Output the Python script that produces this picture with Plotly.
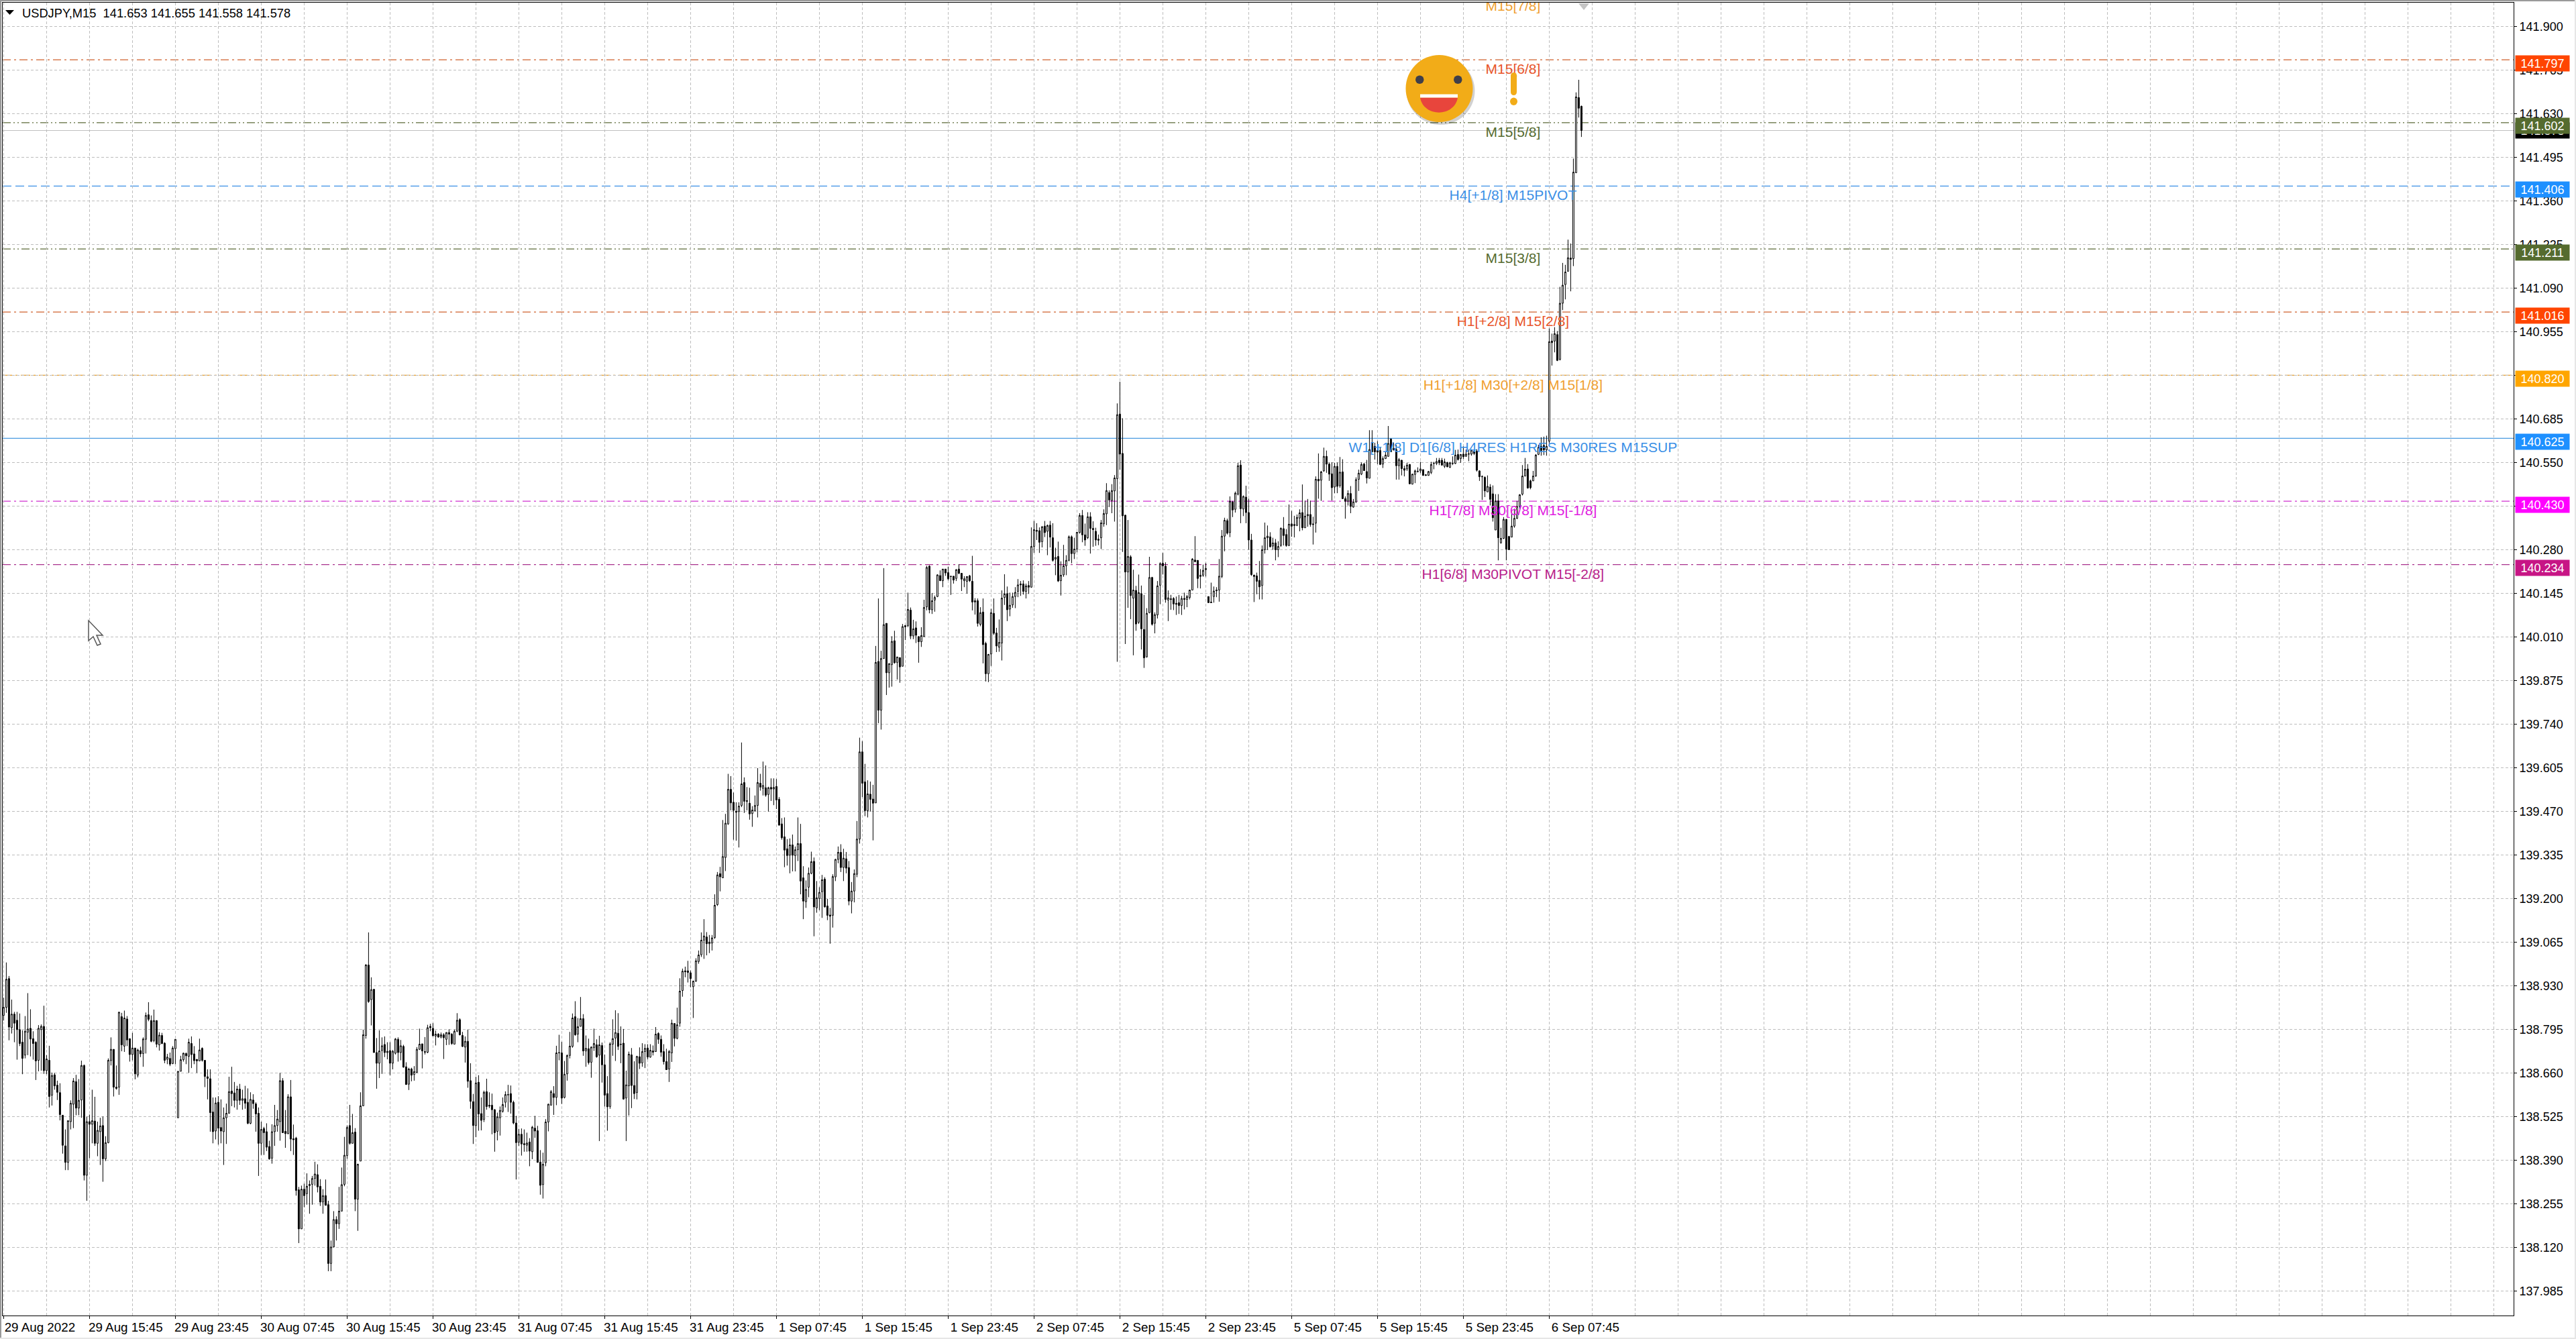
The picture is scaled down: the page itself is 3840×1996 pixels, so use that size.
import plotly.graph_objects as go

PRICE_BASE = 138.0  # the arrays below are prices, in thousandths above this base

opens_milli = [
838,863,952,800,842,823,794,755,715,786,798,766,755,699,794,804,667,699,591,654,
622,599,529,434,383,509,563,633,551,576,683,343,509,501,511,442,478,497,394,444,
698,733,616,616,834,743,827,766,717,737,653,729,720,764,840,822,760,822,747,776,
752,702,705,689,735,521,665,701,720,711,751,719,702,697,736,699,648,642,539,480,
569,491,478,521,535,604,598,575,610,575,580,569,504,576,564,535,442,488,478,432,
396,478,497,509,636,479,472,586,456,458,298,177,300,286,311,315,333,345,309,260,
280,252,70,121,206,193,232,315,404,497,442,477,269,387,558,776,994,887,919,723,
690,729,748,723,729,690,721,764,723,742,
679,625,672,655,662,733,750,726,724,804,798,774,780,771,778,764,785,780,749,789,
825,776,740,758,636,571,497,631,534,516,602,560,560,546,479,521,541,569,593,596,
569,505,445,470,441,436,446,416,489,481,384,314,382,508,560,596,584,723,722,584,
657,714,742,834,780,804,828,728,735,693,738,747,715,745,685,596,556,749,768,783,
749,752,582,620,716,621,599,710,691,726,737,709,728,726,782,764,726,695,672,722,
813,767,814,915,976,976,970,927,944,1005,
1026,1071,1081,1060,1062,1079,1181,1277,1264,1327,1431,1538,1498,1470,1469,1488,1559,1503,1495,1463,
1472,1488,1557,1541,1543,1522,1544,1539,1547,1507,1431,1391,1354,1334,1366,1333,1351,1370,1264,1190,
1235,1278,1315,1171,1200,1221,1260,1177,1149,1148,1267,1321,1343,1296,1323,1296,1192,1223,1275,1384,
1654,1561,1472,1523,1508,1496,1934,1783,1943,2052,
1899,1924,1998,1931,1946,1919,2041,2045,2093,2013,2038,2011,1995,2011,2103,2229,2094,2124,2135,2200,
2184,2220,2209,2198,2198,2191,2220,2207,2184,2182,2199,2182,2118,2122,2049,2087,1990,1896,1957,2083,
2022,1978,1991,2132,2144,2096,2109,2135,2151,2174,2174,2151,2169,2164,2290,2340,2339,2305,2353,2337,
2356,2317,2251,2259,2184,2202,2230,2247,2320,2268,2282,2333,2386,2326,2317,2382,2346,2337,2309,2317,
2360,2391,2457,2432,2462,2500,2700,2578,2387,2211,2258,2130,2154,2055,2144,2033,1948,2085,2194,2052,
2078,2170,2238,2229,2124,2128,2129,2114,2116,2107,2129,2126,2132,2155,2248,2247,2197,2201,2218,2135,
2118,2135,2155,2155,2197,2322,2370,2333,2428,2405,2452,2542,2406,2443,2395,2310,2201,2199,2185,2169,
2280,2317,2320,2291,2301,2280,2293,2345,2327,2293,2360,2358,2355,2378,2395,2348,2385,2389,2360,2362,
2498,2495,2524,2569,2545,2515,2474,2538,2478,2521,2438,2430,2454,2412,2428,2498,2514,2545,2522,2501,
2611,2600,2587,2587,2545,2562,2569,2623,2589,2590,2540,2557,2531,2530,2544,2483,2513,2523,2524,2528,
2512,2510,2519,2547,2547,2557,2557,2538,2550,2535,2548,2547,2575,2562,2576,2569,2577,2576,2585,2585,
2524,2507,2504,2459,2474,2453,2341,2431,2301,2315,2374,2321,2319,2353,2377,2414,2452,2508,2530,2493,
2493,2508,2575,2600,2603,2589,2616,2926,2926,2946,2869,3043,3101,3142,3183,3181,3447,3680,3653]

closes_milli = [
863,950,802,842,814,794,751,705,789,796,765,751,697,798,804,667,703,587,652,620,
600,531,436,383,512,566,635,551,575,683,343,509,501,512,442,482,496,394,444,699,
733,616,612,848,747,830,762,717,737,657,731,719,765,838,826,758,822,749,777,751,
699,709,687,737,764,665,701,721,713,755,717,698,697,731,699,649,643,537,478,567,
489,480,521,535,602,596,575,610,575,580,566,504,578,565,533,442,485,475,430,394,
478,497,517,636,475,472,586,455,453,296,177,300,280,309,315,333,347,307,260,280,
250,70,121,206,193,232,314,405,491,442,475,269,377,558,778,994,881,918,723,690,
728,744,723,727,690,727,765,723,744,678,
624,672,653,664,733,749,728,724,800,800,775,780,771,778,769,785,780,751,789,823,
778,742,758,634,572,497,629,533,513,600,556,557,546,475,524,544,562,593,592,569,
505,444,470,440,438,443,418,492,480,383,312,377,508,563,602,584,722,722,582,656,
714,743,830,778,803,828,728,736,692,740,751,710,747,685,591,555,750,766,785,742,
748,579,623,718,621,596,711,690,726,736,709,730,724,780,764,724,695,670,726,814,
767,809,913,975,973,971,952,944,1007,1025,
1071,1084,1060,1065,1078,1179,1273,1267,1330,1433,1538,1496,1473,1467,1486,1555,1501,1501,1462,1474,
1488,1559,1545,1550,1520,1543,1539,1544,1505,1427,1388,1350,1333,1366,1334,1351,1370,1254,1192,1228,
1278,1314,1174,1202,1219,1258,1174,1148,1145,1268,1321,1343,1296,1325,1294,1192,1223,1277,1384,1654,
1557,1472,1524,1507,1495,1931,1783,1943,2048,1899,
1927,1996,1930,1948,1917,2042,2045,2095,2013,2035,2015,1995,2014,2101,2225,2094,2122,2132,2202,2184,
2220,2208,2190,2197,2186,2218,2207,2189,2190,2197,2184,2118,2122,2052,2085,1986,1896,1956,2085,2021,
1982,1993,2130,2143,2094,2108,2135,2148,2171,2171,2151,2168,2164,2290,2342,2337,2303,2351,2333,2355,
2319,2247,2256,2183,2201,2230,2247,2320,2268,2282,2334,2386,2326,2310,2382,2346,2342,2310,2313,2363,
2392,2463,2434,2463,2502,2698,2576,2385,2211,2259,2138,2155,2050,2147,2035,1945,2083,2194,2049,2079,
2168,2237,2230,2126,2131,2126,2112,2111,2107,2129,2126,2135,2155,2251,2243,2191,2201,2216,2222,2116,
2116,2152,2153,2198,2322,2371,2331,2430,2403,2455,2540,2407,2445,2395,2310,2203,2197,2182,2165,2280,
2317,2322,2289,2301,2280,2290,2346,2324,2293,2359,2353,2355,2380,2394,2348,2384,2389,2358,2358,2498,
2493,2521,2569,2545,2514,2472,2538,2476,2520,2438,2430,2454,2414,2428,2497,2517,2544,2525,2502,2590,
2583,2583,2582,2544,2562,2573,2609,2583,2594,2540,2559,2531,2526,2542,2484,2514,2524,2522,2530,2510,
2510,2522,2544,2548,2553,2549,2542,2552,2537,2549,2547,2573,2559,2575,2568,2576,2576,2588,2578,2526,
2506,2506,2462,2476,2436,2379,2431,2317,2315,2374,2282,2280,2353,2377,2414,2450,2508,2529,2471,2472,
2508,2573,2597,2587,2589,2600,2924,2921,2949,2866,3043,3099,3140,3184,3179,3449,3682,3647,3578]

highs_milli = [
893,1002,960,887,849,849,844,792,836,907,857,789,758,808,810,868,715,744,661,660,
636,628,529,485,512,575,644,654,641,698,686,525,531,608,586,509,521,525,464,705,
770,733,683,849,846,853,836,766,784,737,735,741,770,847,879,838,856,823,786,784,
755,719,723,743,764,665,713,723,723,766,773,743,702,766,739,699,671,671,584,584,
588,578,553,565,648,679,632,620,626,608,620,612,600,594,569,553,509,493,504,450,
501,561,545,660,644,545,594,638,500,462,307,311,317,349,327,341,385,377,331,300,
330,264,141,232,216,307,367,462,497,561,533,489,379,600,794,997,1095,956,919,768,
792,770,773,755,755,731,768,770,762,747,
693,676,676,681,740,797,750,771,809,812,814,791,783,785,783,786,795,783,794,845,
829,787,773,794,690,595,648,653,584,605,642,600,596,548,537,556,584,603,623,621,
574,527,487,488,485,475,458,496,527,496,421,413,517,565,607,619,744,778,756,697,
717,787,844,882,830,895,842,776,766,742,797,764,775,754,717,650,755,826,854,845,
804,796,667,726,737,696,713,739,752,749,749,749,745,802,786,776,749,735,731,825,
814,862,953,983,989,1007,977,946,1015,1039,
1095,1136,1096,1087,1087,1213,1282,1298,1443,1462,1586,1579,1528,1498,1498,1683,1575,1545,1543,1486,
1519,1604,1586,1624,1612,1546,1572,1572,1570,1514,1449,1451,1384,1386,1398,1361,1451,1431,1300,1256,
1296,1345,1327,1254,1235,1273,1266,1199,1171,1275,1323,1361,1368,1354,1344,1316,1251,1290,1440,1698,
1687,1617,1566,1562,1552,1982,2129,1967,2223,2052,
1929,2012,2029,1948,1946,2050,2047,2147,2101,2063,2058,2012,2040,2125,2230,2232,2146,2138,2204,2216,
2220,2220,2227,2198,2198,2220,2235,2208,2198,2197,2202,2261,2130,2129,2102,2129,1995,1957,2097,2129,
2038,2064,2154,2204,2166,2147,2147,2164,2189,2183,2185,2175,2183,2349,2369,2362,2349,2353,2369,2358,
2369,2362,2286,2305,2244,2295,2263,2324,2324,2317,2335,2393,2403,2361,2396,2396,2368,2348,2327,2372,
2405,2486,2464,2483,2511,2733,2800,2687,2388,2372,2263,2218,2168,2203,2169,2140,2099,2258,2196,2086,
2183,2241,2270,2241,2154,2140,2133,2135,2140,2137,2147,2140,2155,2254,2322,2247,2220,2234,2239,2135,
2178,2166,2164,2251,2341,2379,2376,2445,2431,2460,2549,2557,2448,2478,2438,2329,2203,2209,2245,2293,
2364,2355,2334,2317,2313,2306,2349,2381,2344,2420,2400,2385,2389,2405,2482,2432,2437,2432,2382,2507,
2578,2524,2596,2587,2550,2551,2549,2550,2567,2560,2445,2464,2477,2437,2504,2528,2550,2549,2558,2650,
2650,2611,2616,2597,2569,2583,2663,2623,2611,2604,2564,2558,2540,2549,2545,2515,2528,2535,2552,2528,
2514,2524,2552,2552,2564,2564,2564,2562,2552,2552,2569,2589,2590,2576,2600,2590,2590,2591,2589,2591,
2526,2510,2507,2510,2483,2479,2452,2452,2348,2381,2375,2323,2403,2407,2431,2452,2542,2564,2545,2497,
2524,2576,2605,2628,2630,2633,2965,2949,2969,2957,3094,3168,3162,3240,3228,3491,3696,3735,3655]

lows_milli = [
822,846,761,782,755,701,743,656,705,715,711,701,638,665,667,657,656,553,559,608,
576,513,410,359,359,485,489,529,529,521,327,264,396,442,434,402,375,323,387,442,
683,587,608,592,727,725,743,695,699,640,646,709,679,720,820,755,755,739,729,749,
690,687,681,687,687,521,665,695,687,660,675,687,660,697,695,616,578,478,442,454,
438,442,375,440,535,557,553,546,561,546,549,501,501,549,478,341,406,406,418,391,
379,434,478,450,474,428,470,418,406,280,133,177,244,252,224,252,311,290,248,224,
250,46,46,121,141,177,232,309,394,438,442,232,171,387,557,766,877,807,723,611,
644,657,709,702,653,671,717,695,699,676,
624,607,634,636,659,731,674,717,721,789,773,745,769,767,703,746,747,747,749,786,
776,740,692,614,549,440,461,481,482,508,546,551,470,416,451,466,537,553,539,534,
501,330,434,404,416,416,371,393,459,382,283,271,371,479,560,530,560,699,564,581,
636,705,738,775,755,804,713,679,686,645,728,707,449,630,556,481,549,713,697,731,
690,577,449,528,551,579,578,672,679,675,702,707,714,726,750,710,686,669,632,694,
742,764,803,896,956,940,925,830,942,998,
1019,1013,1024,1031,1039,1075,1177,1222,1264,1285,1428,1473,1382,1379,1358,1483,1465,1473,1444,1422,
1469,1451,1534,1519,1515,1469,1502,1489,1477,1426,1382,1297,1302,1278,1284,1284,1316,1213,1136,1171,
1204,1275,1083,1156,1164,1140,1172,1133,1060,1110,1254,1309,1282,1254,1278,1179,1154,1188,1266,1370,
1514,1455,1451,1469,1380,1496,1743,1723,1942,1830,
1853,1856,1927,1878,1868,1919,2000,2040,2003,2003,1991,1930,1979,2010,2092,2083,2081,2088,2133,2183,
2164,2199,2185,2140,2175,2183,2204,2152,2164,2144,2180,2092,2079,2042,2043,1928,1872,1870,1920,2016,
1963,1964,1937,2109,2059,2074,2100,2099,2133,2137,2141,2129,2143,2162,2270,2310,2270,2287,2319,2263,
2287,2243,2201,2180,2138,2196,2201,2244,2238,2251,2272,2330,2303,2292,2313,2268,2289,2292,2294,2282,
2351,2356,2412,2393,2367,1933,2528,2273,1988,2100,2065,1953,2029,2050,1971,1914,1946,2083,2045,2021,
2067,2111,2203,2116,2059,2094,2093,2078,2081,2078,2095,2102,2126,2154,2241,2161,2160,2196,2197,2116,
2116,2116,2133,2119,2192,2275,2327,2319,2381,2395,2448,2362,2384,2362,2280,2199,2118,2142,2126,2126,
2268,2279,2287,2280,2247,2257,2289,2293,2289,2291,2320,2318,2353,2337,2340,2347,2351,2351,2296,2333,
2438,2431,2521,2518,2493,2432,2455,2455,2472,2437,2376,2417,2393,2410,2425,2462,2511,2524,2485,2501,
2583,2559,2545,2542,2533,2561,2568,2582,2587,2497,2497,2510,2507,2524,2483,2482,2486,2519,2517,2509,
2509,2509,2514,2529,2542,2542,2540,2533,2535,2533,2542,2545,2556,2549,2561,2568,2554,2571,2573,2522,
2493,2434,2443,2459,2417,2367,2341,2247,2299,2313,2247,2280,2319,2348,2375,2407,2448,2507,2469,2467,
2493,2506,2573,2571,2573,2571,2608,2850,2891,2864,2866,3022,3055,3142,3080,3158,3447,3618,3558]

y_ticks = [137.985,138.120,138.255,138.390,138.525,138.660,138.795,138.930,139.065,139.200,
           139.335,139.470,139.605,139.740,139.875,140.010,140.145,140.280,140.415,140.550,
           140.685,140.820,140.955,141.090,141.225,141.360,141.495,141.630,141.765,141.900]

x_tick_bars = [0,32,64,96,128,160,192,224,256,288,320,352,384,416,448,480,512,544,576]
x_tick_labels = ["29 Aug 2022","29 Aug 15:45","29 Aug 23:45","30 Aug 07:45","30 Aug 15:45",
                 "30 Aug 23:45","31 Aug 07:45","31 Aug 15:45","31 Aug 23:45","1 Sep 07:45",
                 "1 Sep 15:45","1 Sep 23:45","2 Sep 07:45","2 Sep 15:45","2 Sep 23:45",
                 "5 Sep 07:45","5 Sep 15:45","5 Sep 23:45","6 Sep 07:45"]

level_prices = [141.992,141.797,141.602,141.406,141.211,141.016,140.820,140.625,140.430,140.234]
level_labels = ["M15[7/8]","M15[6/8]","M15[5/8]","H4[+1/8] M15PIVOT","M15[3/8]","H1[+2/8] M15[2/8]",
                "H1[+1/8] M30[+2/8] M15[1/8]","W1[+1/8] D1[6/8] H4RES H1RES M30RES M15SUP",
                "H1[7/8] M30[6/8] M15[-1/8]","H1[6/8] M30PIVOT M15[-2/8]"]
label_colors = ["#F0A030","#E8552A","#556B2F","#3A8FE6","#556B2F","#E8552A",
                "#F0A030","#3A8FE6","#E020E0","#B8228A"]
line_colors = ["#F0A030","#D0602C","#5C6B38","#3A8FE6","#5C6B38","#D0602C",
               "#E8A030","#4A9AE0","#D030D0","#A8308C"]
line_dashes = ["dashdot","12px,5px,3px,5px","12px,4px,2px,4px,2px,4px","13px,6px",
               "12px,4px,2px,4px,2px,4px","12px,5px,3px,5px","14px,5px,3px,5px","solid",
               "12px,5px,3px,5px","12px,5px,3px,5px"]
tag_colors = [None,"#FF4500","#556B2F","#1E90FF","#556B2F","#FF4500","#FFA500","#1E90FF","#FF00FF","#C71585"]
label_bar = 562.5
last_price = 141.578

opens = [round(PRICE_BASE + v / 1000, 3) for v in opens_milli]
highs = [round(PRICE_BASE + v / 1000, 3) for v in highs_milli]
lows = [round(PRICE_BASE + v / 1000, 3) for v in lows_milli]
closes = [round(PRICE_BASE + v / 1000, 3) for v in closes_milli]
bars = list(range(len(opens)))

W, H = 3840, 1996
L, R, T, B = 4, 3747, 4, 1961
FONT = "Liberation Sans"


def X(px):
    return (px - L) / (R - L)


def Y(py):
    return 1 - (py - T) / (B - T)


def paper_shape(kind, x0, y0, x1, y1, fill, line=None, opacity=1):
    return dict(type=kind, xref="paper", yref="paper", x0=X(x0), x1=X(x1), y0=Y(y0), y1=Y(y1),
                fillcolor=fill, line=dict(width=0 if line is None else 1, color=line or fill), opacity=opacity)


def paper_path(points, fill, line=None):
    d = "M " + " L ".join(f"{X(a):.6f},{Y(b):.6f}" for a, b in points) + " Z"
    return dict(type="path", xref="paper", yref="paper", path=d, fillcolor=fill,
                line=dict(width=0 if line is None else 1.5, color=line or fill))


fig = go.Figure()

fig.add_trace(go.Scatter(
    x=[label_bar] * len(level_prices), y=level_prices, text=level_labels, mode="markers+text",
    marker=dict(size=7, opacity=0), textposition="bottom center", cliponaxis=True,
    hoverinfo="skip", showlegend=False,
    textfont=dict(family=FONT, size=21, color=label_colors)))

fig.add_trace(go.Candlestick(
    x=bars, open=opens, high=highs, low=lows, close=closes, showlegend=False, hoverinfo="skip",
    increasing=dict(line=dict(color="#000000", width=1), fillcolor="#ffffff"),
    decreasing=dict(line=dict(color="#000000", width=1), fillcolor="#000000"),
    whiskerwidth=0))

shapes = []
for price, colour, dash in zip(level_prices, line_colors, line_dashes):
    shapes.append(dict(type="line", xref="paper", yref="y", x0=0, x1=1, y0=price, y1=price, layer="below",
                       line=dict(color=colour, width=1.2, dash=dash)))
shapes.append(dict(type="line", xref="paper", yref="y", x0=0, x1=1, y0=last_price, y1=last_price, layer="below",
                   line=dict(color="#C0C0C0", width=1.2)))

# window frame
shapes += [paper_shape("rect", 0, 0, W, 2, "#9A9A9A"),
           paper_shape("rect", 0, 0, 2, H, "#9A9A9A"),
           paper_shape("rect", 0, H - 2, W, H, "#E6E6E6"),
           paper_shape("rect", W - 2, 0, W, H, "#E6E6E6")]

# header triangle, chart-shift marker, mouse pointer
shapes.append(paper_path([(8, 15), (21, 15), (14.5, 22)], "#000000"))
shapes.append(paper_path([(2353, 5), (2369, 5), (2361, 15)], "#C4C4C4"))
shapes.append(paper_path([(132, 925), (132, 955), (139, 949), (145, 962), (150, 960), (144, 947), (153, 947)],
                         "#FFFFFF", "#555555"))

# smiley icon
cx, cy = 2145.5, 132
shapes.append(paper_shape("circle", cx - 49, cy - 47, cx + 53, cy + 54, "#000000", opacity=0.18))
shapes.append(paper_shape("circle", cx - 50, cy - 50, cx + 50, cy + 50, "#F2AC18"))
shapes.append(paper_shape("circle", 2110, 112.5, 2122.5, 125, "#3F3F4A"))
shapes.append(paper_shape("circle", 2167, 112.5, 2179.5, 125, "#3F3F4A"))
mouth = (f"M {X(2117):.6f},{Y(145.5):.6f} C {X(2122):.6f},{Y(175):.6f} {X(2168):.6f},{Y(175):.6f} "
         f"{X(2173):.6f},{Y(145.5):.6f} Z")
shapes.append(dict(type="path", xref="paper", yref="paper", path=mouth, fillcolor="#E8453C", line=dict(width=0)))
shapes.append(paper_shape("rect", 2117, 140.5, 2173, 145.5, "#FFFFFF"))

# exclamation mark
shapes.append(paper_shape("circle", 2252, 108, 2261, 117, "#F2AC18"))
shapes.append(paper_shape("rect", 2252, 112, 2261, 137, "#F2AC18"))
shapes.append(paper_shape("circle", 2252, 133, 2261, 142, "#F2AC18"))
shapes.append(paper_shape("circle", 2251, 145.5, 2262, 157, "#F2AC18"))

annotations = [dict(text="USDJPY,M15\u00a0 141.653 141.655 141.558 141.578", xref="paper", yref="paper",
                    x=X(31), y=Y(19.5), xanchor="left", yanchor="middle", showarrow=False,
                    font=dict(family=FONT, size=18.3, color="#000000"))]


def tag(price, colour, shift):
    return dict(text=f"{price:.3f}", xref="paper", yref="y", x=1, y=price, xanchor="left", yanchor="middle",
                xshift=2, yshift=shift, width=80, height=23, align="center", valign="middle",
                bgcolor=colour, borderpad=0, showarrow=False, font=dict(family=FONT, size=18, color="#FFFFFF"))


annotations.append(tag(last_price, "#000000", 0))
for price, colour in zip(level_prices, tag_colors):
    if colour:
        annotations.append(tag(price, colour, -5))

grid = dict(color="#BDBDBD", dash="4px,3px")

fig.update_layout(
    width=W, height=H, autosize=False, paper_bgcolor="#FFFFFF", plot_bgcolor="#FFFFFF",
    margin=dict(l=L, r=W - R, t=T, b=H - B, pad=0), showlegend=False, hovermode=False,
    font=dict(family=FONT, size=18, color="#000000"), shapes=shapes, annotations=annotations,
    xaxis=dict(range=[-0.35, 935.4], rangeslider=dict(visible=False), tickmode="array",
               tickvals=x_tick_bars, ticktext=x_tick_labels, ticks="outside", ticklen=4, tickcolor="#000000",
               ticklabelshift=54, ticklabelstandoff=-4, tickangle=0, showline=True, linecolor="#000000",
               linewidth=1, mirror=True,
               showgrid=True, gridcolor=grid["color"], griddash=grid["dash"], gridwidth=1, zeroline=False,
               tickfont=dict(family=FONT, size=18.8, color="#000000"),
               minor=dict(tickmode="linear", tick0=0, dtick=16, ticks="", showgrid=True,
                          gridcolor=grid["color"], griddash=grid["dash"], gridwidth=1)),
    yaxis=dict(range=[137.9088, 141.9737], side="right", tickmode="array", tickvals=y_ticks,
               tickformat=".3f", ticks="outside", ticklen=4, tickcolor="#000000",
               showline=True, linecolor="#000000", linewidth=1, mirror=True,
               showgrid=True, gridcolor=grid["color"], griddash=grid["dash"], gridwidth=1, zeroline=False,
               tickfont=dict(family=FONT, size=18, color="#000000")),
)

fig.write_html("out.html", config=dict(displayModeBar=False),
               post_script="document.body.style.margin='0';document.body.style.background='#fff';")
